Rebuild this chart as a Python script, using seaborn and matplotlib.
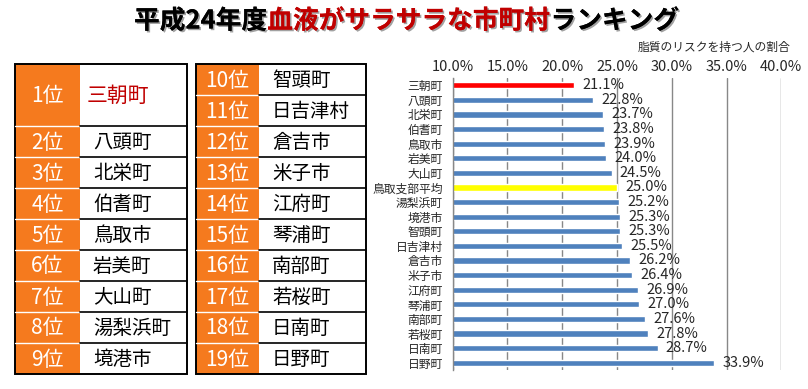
import matplotlib
matplotlib.use('Agg')
import matplotlib.pyplot as plt
import matplotlib.patheffects as pe
from matplotlib.patches import Rectangle
import pandas as pd
import seaborn as sns

# --- data ---
title_parts = ['平成24年度', '血液がサラサラな市町村', 'ランキング']
title_colors = ['black', '#C00000', 'black']
subtitle = '脂質のリスクを持つ人の割合'

ranks_left = ['1位', '2位', '3位', '4位', '5位', '6位', '7位', '8位', '9位']
towns_left = ['三朝町', '八頭町', '北栄町', '伯耆町', '鳥取市', '岩美町', '大山町', '湯梨浜町', '境港市']
ranks_right = ['10位', '11位', '12位', '13位', '14位', '15位', '16位', '17位', '18位', '19位']
towns_right = ['智頭町', '日吉津村', '倉吉市', '米子市', '江府町', '琴浦町', '南部町', '若桜町', '日南町', '日野町']

bar_names = ['三朝町', '八頭町', '北栄町', '伯耆町', '鳥取市', '岩美町', '大山町', '鳥取支部平均',
             '湯梨浜町', '境港市', '智頭町', '日吉津村', '倉吉市', '米子市', '江府町', '琴浦町',
             '南部町', '若桜町', '日南町', '日野町']
bar_values = [21.1, 22.8, 23.7, 23.8, 23.9, 24.0, 24.5, 25.0, 25.2, 25.3, 25.3, 25.5,
              26.2, 26.4, 26.9, 27.0, 27.6, 27.8, 28.7, 33.9]
special_colors = {'三朝町': '#FF0000', '鳥取支部平均': '#FFFF00'}
x_ticks = [10, 15, 20, 25, 30, 35, 40]

ORANGE = '#F57A1E'
BLUE = '#4F81BD'
GRID = '#888888'

sns.set_style('white')
plt.rcParams['font.family'] = ['Noto Sans CJK JP', 'DejaVu Sans']

fig = plt.figure(figsize=(8.08, 3.89), dpi=100)

# background axes in pixel coordinates for title + tables
bg = fig.add_axes([0, 0, 1, 1])
bg.set_xlim(0, 808)
bg.set_ylim(389, 0)
bg.axis('off')

# title in three colours, placed one after another
fig.canvas.draw()
renderer = fig.canvas.get_renderer()
x = 134
shadow = [pe.withSimplePatchShadow(offset=(1.2, -1.2), shadow_rgbFace='#444444', alpha=0.5), pe.Normal()]
for part, col in zip(title_parts, title_colors):
    t = bg.text(x, 21, part, fontsize=18.5, fontweight='bold', color=col,
                ha='left', va='center', path_effects=shadow)
    bb = t.get_window_extent(renderer)
    x = bb.x1

bg.text(790, 47, subtitle, fontsize=8.5, ha='right', va='center')


def draw_table(x0, xs, x1, ranks, towns, spans, top=64, unit=31):
    y = top
    n = len(ranks)
    for i, (r, t, s) in enumerate(zip(ranks, towns, spans)):
        h = s * unit
        bg.add_patch(Rectangle((x0, y), xs - x0, h, fc=ORANGE, ec='none'))
        bg.text((x0 + xs) / 2, y + h / 2 + 1, r, color='white', fontsize=15,
                ha='center', va='center')
        first = (i == 0 and s == 2)
        bg.text(xs + (7 if first else 13), y + h / 2 + 1, t,
                color='#C00000' if first else 'black',
                fontsize=15 if first else 14, ha='left', va='center')
        y += h
        if i < n - 1:
            bg.plot([x0, xs], [y, y], color='white', lw=1)
            bg.plot([xs, x1], [y, y], color='black', lw=1.2)
    bg.add_patch(Rectangle((x0, top), x1 - x0, y - top, fill=False, ec='black', lw=1.4))


draw_table(15, 80, 187, ranks_left, towns_left, [2] + [1] * 8)
draw_table(196, 259, 366, ranks_right, towns_right, [1] * 10)

# bar chart
ax = fig.add_axes([452.7 / 808, 1 - 370 / 389, 328.6 / 808, 292 / 389])
df = pd.DataFrame({'name': bar_names, 'value': bar_values})
palette = {n: special_colors.get(n, BLUE) for n in bar_names}
sns.barplot(data=df, x='value', y='name', hue='name', palette=palette, legend=False,
            orient='h', width=0.42, saturation=1, ax=ax)
ax.set_xlim(10, 40)
ax.set_xticks(x_ticks)
ax.set_xticklabels([f'{v:.1f}%' for v in x_ticks])
ax.xaxis.tick_top()
ax.tick_params(axis='x', length=0, pad=3, labelsize=10.5)
ax.tick_params(axis='y', which='major', length=0, pad=7, labelsize=8.5)
ax.set_yticks([i + 0.5 for i in range(-1, len(bar_names))], minor=True)
ax.tick_params(axis='y', which='minor', length=3, width=1, color=GRID, direction='out')
ax.set_xlabel('')
ax.set_ylabel('')
ax.grid(axis='x', color=GRID, lw=1)
ax.set_axisbelow(True)
for side in ['top', 'right', 'bottom']:
    ax.spines[side].set_visible(False)
ax.spines['left'].set_color(GRID)
ax.spines['left'].set_linewidth(1)

for c in ax.containers:
    ax.bar_label(c, labels=[f'{v:.1f}%' for v in c.datavalues], padding=6, fontsize=10.5)

fig.savefig('out.png', dpi=100)
